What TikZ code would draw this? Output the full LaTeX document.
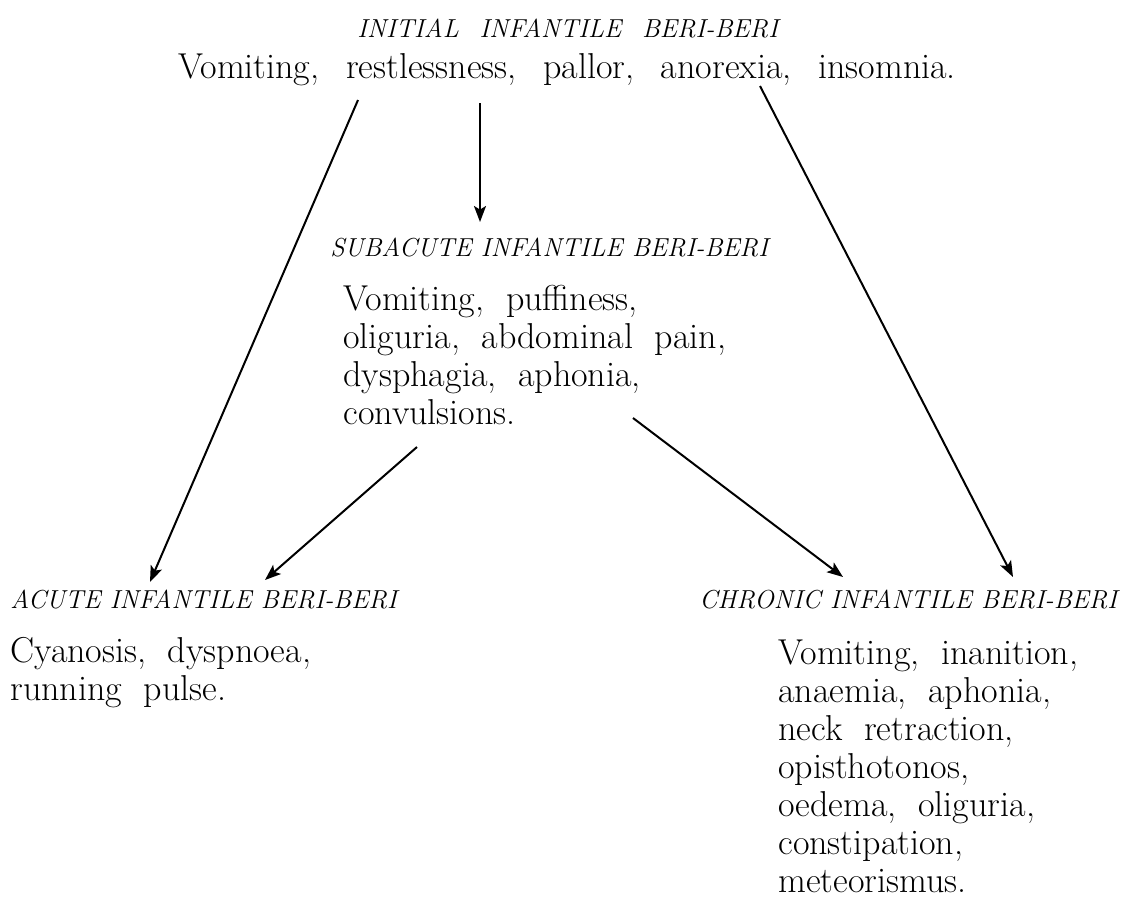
\documentclass[tikz,border=0pt]{standalone}
\usepackage{fontspec}
\usetikzlibrary{arrows.meta}

\newcommand\headfont[1]{\fontsize{13}{14}\selectfont\itshape\spaceskip#1em\relax}
\newcommand\bodyfont[1]{\fontsize{18}{19}\selectfont\spaceskip#1em\relax}

\begin{document}
\begin{tikzpicture}[
    x=0.5pt, y=-0.5pt,
    >={Stealth[length=8pt,width=6pt,inset=1.8pt]},
    head/.style={anchor=base west,inner sep=0pt,font=\headfont{0.36}},
    body/.style={anchor=base west,inner sep=0pt,align=left,font=\bodyfont{0.6}},
    arr/.style={->,line width=1pt},
]
\useasboundingbox (0,0) rectangle (1121,900);

% Initial stage
\node[head,font=\headfont{0.8}] (initT) at (357,37) {INITIAL INFANTILE BERI-BERI};
\node[body,font=\bodyfont{0.74}] (initB) at (178,78)
    {Vomiting, restlessness, pallor, anorexia, insomnia.};

% Subacute stage (base = last line)
\node[head] (subT) at (330,256) {SUBACUTE INFANTILE BERI-BERI};
\node[body] (subB) at (343,424)
    {Vomiting, puffiness,\\oliguria, abdominal pain,\\dysphagia, aphonia,\\convulsions.};

% Acute stage
\node[head] (acuT) at (10,608) {ACUTE INFANTILE BERI-BERI};
\node[body] (acuB) at (10,700) {Cyanosis, dyspnoea,\\running pulse.};

% Chronic stage
\node[head] (chrT) at (699,608) {CHRONIC INFANTILE BERI-BERI};
\node[body] (chrB) at (778,892)
    {Vomiting, inanition,\\anaemia, aphonia,\\neck retraction,\\opisthotonos,\\oedema, oliguria,\\constipation,\\meteorismus.};

% Arrows from the initial stage
\draw[arr] ([shift={(180,22)}]initB.base west) -- ([shift={(140,-26)}]acuT.base west);
\draw[arr] ([shift={(302,25)}]initB.base west) -- ([shift={(150,-34)}]subT.base west);
\draw[arr] ([shift={(582,8)}]initB.base west) -- ([shift={(314,-31)}]chrT.base west);

% Arrows from the subacute stage
\draw[arr] ([shift={(74,23)}]subB.base west) -- ([shift={(255,-28)}]acuT.base west);
\draw[arr] ([shift={(290,-6)}]subB.base west) -- ([shift={(144,-31)}]chrT.base west);
\end{tikzpicture}
\end{document}
